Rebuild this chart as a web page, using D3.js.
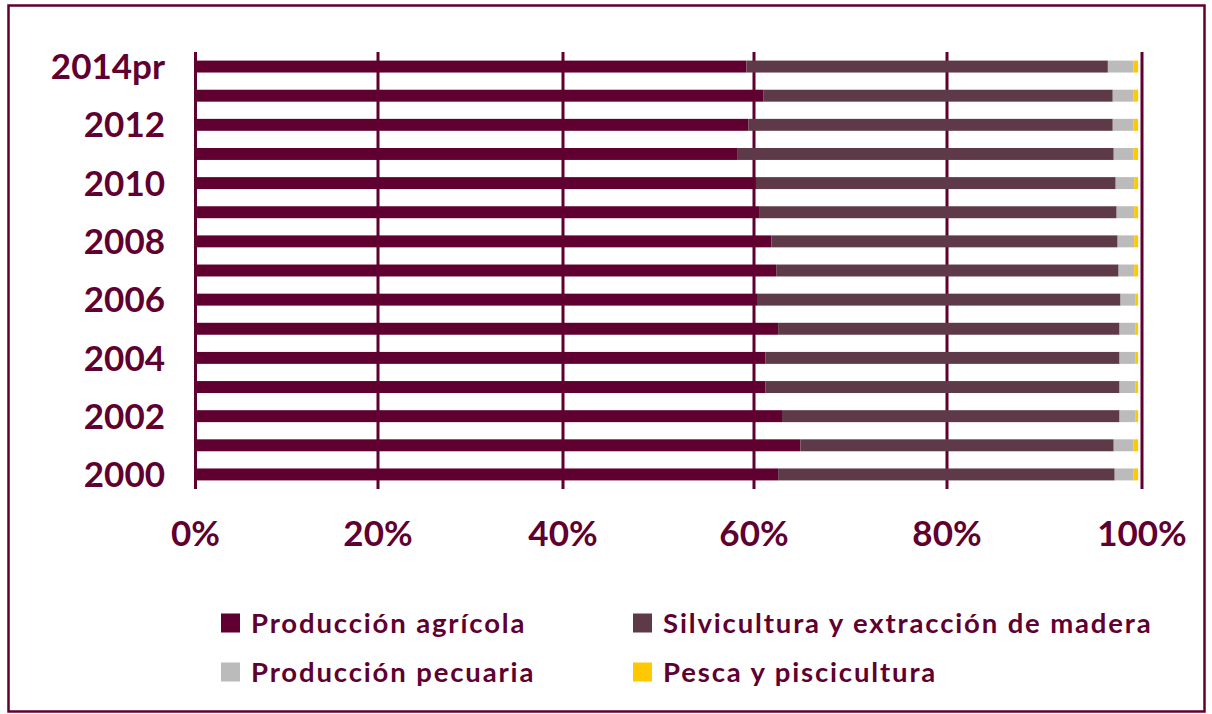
<!DOCTYPE html>
<html>
<head>
<meta charset="utf-8">
<script src="https://cdn.jsdelivr.net/npm/d3@7"></script>
<style>
  html, body { margin: 0; padding: 0; background: #ffffff; }
  svg { display: block; }
  text { font-family: Lato, "Open Sans", sans-serif; font-weight: 700; fill: #600030; }
</style>
</head>
<body>
<svg id="chart" width="1212" height="714"></svg>
<script>
// ---- data ----
const years = ["2000","2001","2002","2003","2004","2005","2006","2007","2008","2009","2010","2011","2012","2013","2014pr"];
const agricola    = [62.5, 64.8, 62.9, 61.2, 61.2, 62.5, 60.4, 62.3, 61.8, 60.6, 60.2, 58.3, 59.4, 61.0, 59.2];
const silvicultura = [34.7, 32.3, 34.8, 36.5, 36.5, 35.2, 37.4, 35.3, 35.7, 36.8, 37.1, 38.8, 37.6, 36.0, 37.3];
const pecuaria    = [1.9, 2.0, 1.6, 1.6, 1.6, 1.6, 1.5, 1.6, 1.7, 1.8, 1.9, 2.0, 2.1, 2.1, 2.6];
const pesca       = [0.5, 0.5, 0.3, 0.3, 0.3, 0.3, 0.3, 0.4, 0.4, 0.4, 0.4, 0.5, 0.5, 0.5, 0.5];
const seriesNames = ["Producción agrícola", "Silvicultura y extracción de madera", "Producción pecuaria", "Pesca y piscicultura"];
const seriesColors = ["#600030", "#5e3a48", "#bbbbbb", "#ffc800"];
const xTicks = [0, 20, 40, 60, 80, 100];
const xTickLabels = ["0%", "20%", "40%", "60%", "80%", "100%"];

// ---- layout ----
const svg = d3.select("#chart");
const gridPos = [195.5, 378, 563, 754, 947, 1142];
const x = d3.scaleLinear().domain(xTicks).range(gridPos);
const y = d3.scaleBand().domain(years.slice().reverse()).range([52, 489])
  .paddingInner(0.59).paddingOuter(0.295);
const color = d3.scaleOrdinal().domain(seriesNames).range(seriesColors);

// outer border
svg.append("rect").attr("x", 8.5).attr("y", 5.5).attr("width", 1196).attr("height", 706)
  .attr("fill", "none").attr("stroke", "#600030").attr("stroke-width", 2.5);

// gridlines (incl. axis line)
svg.append("g").selectAll("line").data(xTicks).join("line")
  .attr("x1", d => x(d)).attr("x2", d => x(d))
  .attr("y1", 52).attr("y2", 489)
  .attr("stroke", "#600030").attr("stroke-width", 3);

// stacked data
const rows = years.map((yr, i) => ({
  year: yr,
  [seriesNames[0]]: agricola[i],
  [seriesNames[1]]: silvicultura[i],
  [seriesNames[2]]: pecuaria[i],
  [seriesNames[3]]: pesca[i]
}));
const stacked = d3.stack().keys(seriesNames)(rows);

svg.append("g").selectAll("g").data(stacked).join("g")
  .attr("fill", d => color(d.key))
  .selectAll("rect").data(d => d).join("rect")
  .attr("x", d => x(d[0]))
  .attr("width", d => x(d[1]) - x(d[0]))
  .attr("y", d => y(d.data.year))
  .attr("height", y.bandwidth());

// y labels (every other year)
svg.append("g").selectAll("text").data(years.filter((d, i) => i % 2 === 0)).join("text")
  .attr("x", 165)
  .attr("y", d => y(d) + y.bandwidth() / 2)
  .attr("dy", "0.36em")
  .attr("text-anchor", "end")
  .attr("font-size", 35)
  .text(d => d);

// x labels
svg.append("g").selectAll("text").data(xTicks).join("text")
  .attr("x", d => x(d))
  .attr("y", 546)
  .attr("text-anchor", "middle")
  .attr("font-size", 35)
  .text((d, i) => xTickLabels[i]);

// legend
const legendPos = [[221, 623], [633, 623], [221, 672], [633, 672]];
const lg = svg.append("g").selectAll("g").data(seriesNames).join("g")
  .attr("transform", (d, i) => `translate(${legendPos[i][0]},${legendPos[i][1]})`);
lg.append("rect").attr("x", 0).attr("y", -9.5).attr("width", 19).attr("height", 19)
  .attr("fill", d => color(d));
lg.append("text").attr("x", 30).attr("y", 0).attr("dy", "0.36em")
  .attr("font-size", 27.5).attr("letter-spacing", 1.85).text(d => d);
</script>
</body>
</html>
